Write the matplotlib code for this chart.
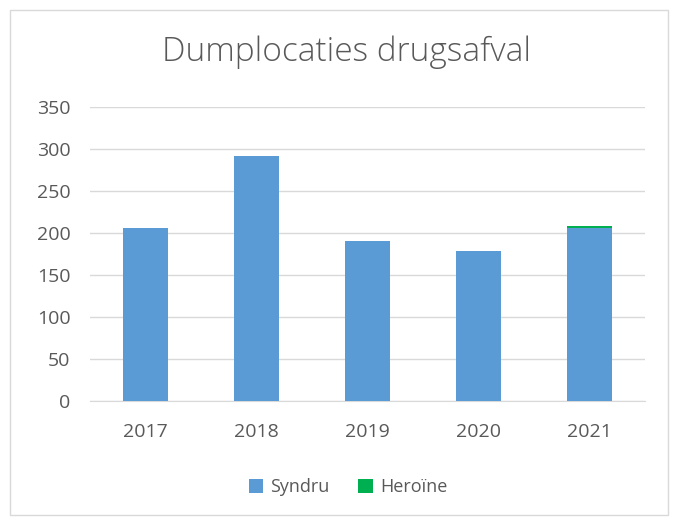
import matplotlib
matplotlib.use("Agg")
import matplotlib.pyplot as plt
from matplotlib.patches import Rectangle

years = ["2017", "2018", "2019", "2020", "2021"]
syndru = [206, 292, 191, 178, 206]
heroine = [0, 0, 0, 0, 2]
yticks = [0, 50, 100, 150, 200, 250, 300, 350]

blue = "#5B9BD5"
green = "#00B050"
txt = "#595959"

fig = plt.figure(figsize=(6.78, 5.2), dpi=100)
fig.patches.append(Rectangle((10/678, 1 - 515/520), 658/678, 505/520,
                             transform=fig.transFigure, fill=False,
                             edgecolor="#D9D9D9", linewidth=1))
ax = fig.add_axes([90/678, 1 - 401/520, 555/678, (401 - 107)/520])
x = list(range(len(years)))
ax.bar(x, syndru, width=0.4, color=blue, label="Syndru", zorder=3)
ax.bar(x, heroine, width=0.4, bottom=syndru, color=green, label="Heroïne", zorder=3)
ax.set_xlim(-0.5, 4.5)
ax.set_ylim(0, 350)
ax.set_yticks(yticks)
ax.set_xticks(x)
ax.set_xticklabels(years)
ax.grid(axis="y", color="#D9D9D9", linewidth=1, zorder=0)
for s in ["top", "right", "left"]:
    ax.spines[s].set_visible(False)
ax.spines["bottom"].set_color("#D9D9D9")
ax.tick_params(length=0, colors=txt, labelsize=14)
ax.tick_params(axis="y", pad=14)
ax.tick_params(axis="x", pad=16)
for lab in ax.get_xticklabels() + ax.get_yticklabels():
    lab.set_fontfamily("Open Sans")

fig.text(346/678, 1 - 52/520, "Dumplocaties drugsafval", ha="center", va="center",
         fontsize=24, color=txt, fontfamily="Open Sans", fontweight="light")

leg = fig.legend(loc="center", bbox_to_anchor=(348/678, 1 - 487/520), ncol=2,
                 frameon=False, handlelength=0.8, handleheight=0.8,
                 handletextpad=0.4, columnspacing=1.6,
                 prop={"family": "Open Sans", "size": 13})
for t in leg.get_texts():
    t.set_color(txt)

fig.savefig("out.png", dpi=100)
